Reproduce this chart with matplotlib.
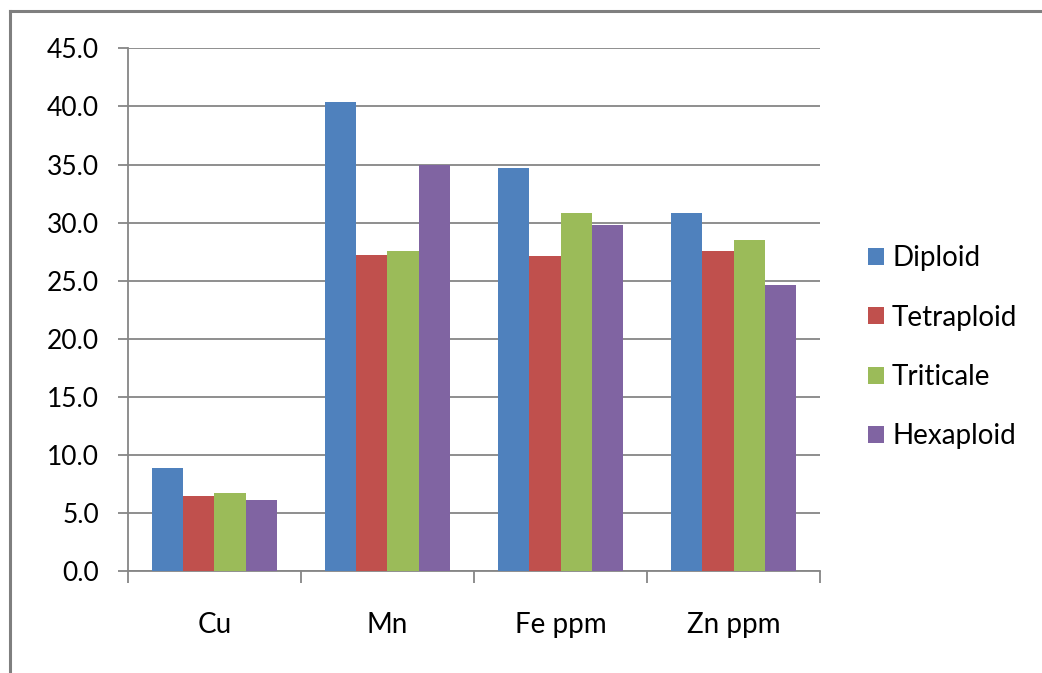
import numpy as np
import matplotlib.pyplot as plt
from matplotlib.lines import Line2D

plt.rcParams['font.family'] = ['Lato', 'DejaVu Sans']

# Data
categories = ['Cu', 'Mn', 'Fe ppm', 'Zn ppm']
series_names = ['Diploid', 'Tetraploid', 'Triticale', 'Hexaploid']
diploid = [8.9, 40.4, 34.7, 30.8]
tetraploid = [6.5, 27.2, 27.1, 27.6]
triticale = [6.7, 27.6, 30.8, 28.5]
hexaploid = [6.1, 35.0, 29.8, 24.6]
colors = ['#4F81BD', '#C0504D', '#9BBB59', '#8064A2']

grid_color = '#868686'
fs = 20

fig = plt.figure(figsize=(10.42, 6.73), dpi=100)
ax = fig.add_axes([0.1228, 0.1511, 0.787 - 0.1228, 0.9282 - 0.1511])

x = np.arange(len(categories))
bar_w = 1 / 5.5  # Excel gap width 150%
all_series = [diploid, tetraploid, triticale, hexaploid]
for i, (vals, name, c) in enumerate(zip(all_series, series_names, colors)):
    offset = (i - 1.5) * bar_w
    ax.bar(x + offset, vals, width=bar_w, color=c, label=name, zorder=3)

ax.set_xlim(-0.5, 3.5)
ax.set_ylim(0, 45)
ax.set_yticks(np.arange(0, 46, 5))
ax.set_yticklabels([f'{v:.1f}' for v in np.arange(0, 46, 5)])
ax.yaxis.grid(True, color=grid_color, linewidth=1.3, zorder=0)
ax.set_axisbelow(True)

ax.set_xticks(x)
ax.set_xticklabels(categories)
ax.set_xticks(np.arange(-0.5, 4, 1), minor=True)
ax.tick_params(axis='x', which='major', length=0, pad=29, labelsize=fs)
ax.tick_params(axis='x', which='minor', length=8.6, width=1.3, color=grid_color, direction='out')
ax.tick_params(axis='y', length=7.2, width=1.3, color=grid_color, pad=13.5, labelsize=19)

for side in ['top', 'right']:
    ax.spines[side].set_visible(False)
for side in ['left', 'bottom']:
    ax.spines[side].set_color(grid_color)
    ax.spines[side].set_linewidth(1.3)

leg = ax.legend(loc='upper left', bbox_to_anchor=(0.822, 0.652), bbox_transform=fig.transFigure,
                frameon=False, fontsize=fs, handlelength=0.58, handleheight=0.58,
                handletextpad=0.3, labelspacing=1.2, borderaxespad=0)

# outer chart frame (left and top edges visible)
fig.add_artist(Line2D([0.0096, 0.0096], [0, 0.9837], color='#7f7f7f', linewidth=2.2))
fig.add_artist(Line2D([0.0096, 1.0], [0.9837, 0.9837], color='#7f7f7f', linewidth=2.2))

fig.savefig('out.png', dpi=100)
